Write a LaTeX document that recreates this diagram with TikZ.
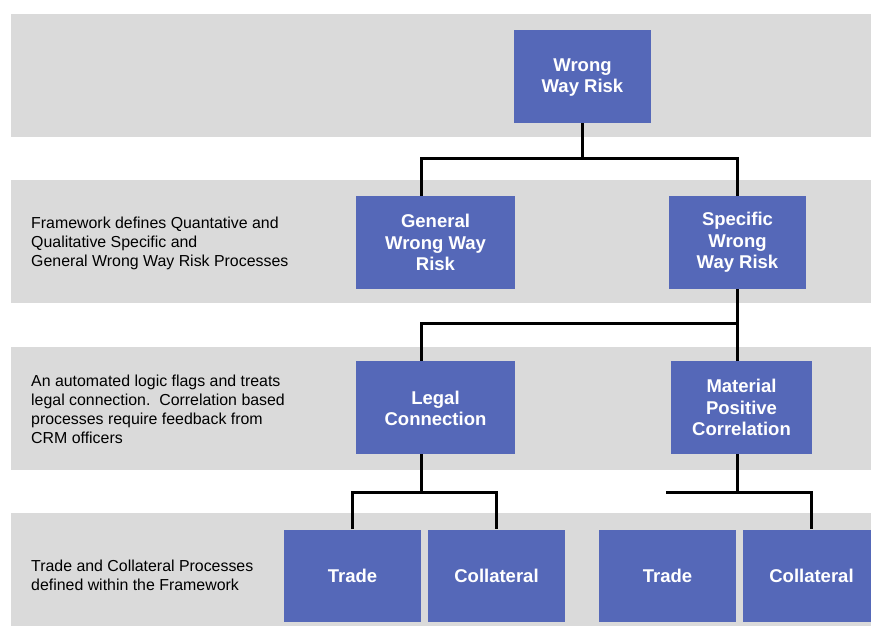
\documentclass[tikz,border=0pt]{standalone}
\usepackage{fontspec}
\setmainfont{Liberation Sans}
\definecolor{bandgray}{HTML}{DADADA}
\definecolor{boxblue}{HTML}{5568B8}
\begin{document}
\begin{tikzpicture}[x=1pt,y=-1pt,
  band/.style={fill=bandgray,draw=none},
  bluebox/.style={rectangle,fill=boxblue,draw=none,inner sep=0pt,text=white,
    font=\fontsize{18.5}{21.5}\selectfont\bfseries,align=center},
  note/.style={anchor=west,inner sep=0pt,align=left,font=\fontsize{15.9}{19}\selectfont},
  conn/.style={line width=3pt}]
\clip (0,0) rectangle (871,626);
\fill[white] (0,0) rectangle (871,626);
% bands
\fill[band] (11,14) rectangle (871,137);
\fill[band] (11,180) rectangle (871,303);
\fill[band] (11,347) rectangle (871,470);
\fill[band] (11,513) rectangle (871,626);
% notes
\node[note] (n1) at (31,243.5) {Framework defines Quantative and\\Qualitative Specific and\\General Wrong Way Risk Processes};
\node[note] (n2) at (31,409.5) {An automated logic flags and treats\\legal connection.\ \ Correlation based\\processes require feedback from\\CRM officers};
\node[note] (n3) at (31,575.5) {Trade and Collateral Processes\\defined within the Framework};
% boxes
\node[bluebox,minimum width=137,minimum height=93] (wwr) at (582.5,76.5) {\strut Wrong\\Way Risk};
\node[bluebox,minimum width=159,minimum height=93] (gen) at (435.5,242.5) {General\\Wrong Way\\Risk};
\node[bluebox,minimum width=137,minimum height=93] (spec) at (737.5,242.5) {Specific\\Wrong\\Way Risk};
\node[bluebox,minimum width=159,minimum height=93] (legal) at (435.5,407.5) {\strut Legal\\Connection};
\node[bluebox,minimum width=141,minimum height=93] (mat) at (741.5,407.5) {Material\\Positive\\Correlation};
\node[bluebox,minimum width=137,minimum height=92] (tr1) at (352.5,575.5) {Trade};
\node[bluebox,minimum width=137,minimum height=92] (co1) at (496.5,575.5) {Collateral};
\node[bluebox,minimum width=137,minimum height=92] (tr2) at (667.5,575.5) {Trade};
\node[bluebox,minimum width=137,minimum height=92] (co2) at (811.5,575.5) {Collateral};
% helper coordinates
\coordinate (lx) at (421,0);
\coordinate (y1) at (0,158);
\coordinate (y2) at (0,323);
\coordinate (y3) at (0,492.5);
\coordinate (free) at (666,492.5);
% connectors
\draw[conn] (wwr.south) -- (wwr.south |- y1);
\draw[conn] (gen.north -| lx) -- (lx |- y1) -- (spec.north |- y1) -- (spec.north);
\draw[conn] (spec.south) -- (spec.south |- y2);
\draw[conn] (legal.north -| lx) -- (lx |- y2) -- (spec.south |- y2) -- (mat.north -| spec.south);
\draw[conn] (legal.south -| lx) -- (lx |- y3);
\draw[conn] (tr1.north) -- (tr1.north |- y3) -- (co1.north |- y3) -- (co1.north);
\draw[conn] (mat.south -| spec.south) -- (spec.south |- y3);
\draw[conn] (free) -- (co2.north |- y3) -- (co2.north);
\end{tikzpicture}
\end{document}
